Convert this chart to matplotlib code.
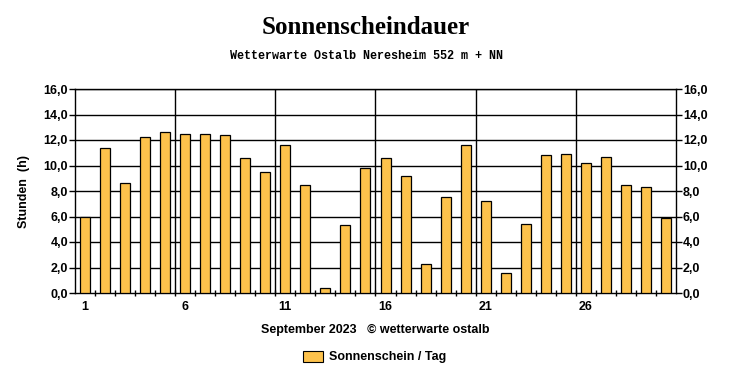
import matplotlib.pyplot as plt
from matplotlib.patches import Patch
from matplotlib.ticker import FixedLocator, FuncFormatter

# Data
days = list(range(1, 31))
sunshine = [6.0, 11.4, 8.6, 12.2, 12.6, 12.5, 12.5, 12.4, 10.6, 9.5,
            11.6, 8.5, 0.4, 5.3, 9.8, 10.6, 9.2, 2.3, 7.5, 11.6,
            7.2, 1.6, 5.4, 10.8, 10.9, 10.2, 10.7, 8.5, 8.3, 5.9]
day_labels = [1, 6, 11, 16, 21, 26]
yticks = [0, 2, 4, 6, 8, 10, 12, 14, 16]

BAR = '#FDC24C'
LAB = dict(family='Liberation Sans', weight='bold', size=9)

fig = plt.figure(figsize=(7.32, 3.8), dpi=100)
ax = fig.add_axes([75 / 732, 1 - 293 / 380, 601 / 732, 204 / 380])

ax.bar(days, sunshine, width=0.5, color=BAR, edgecolor='black', linewidth=0.9, zorder=3)

ax.set_xlim(0.5, 30.5)
ax.set_ylim(0, 16)

# grid: horizontal every 2 h, vertical every 5 days (between days)
for y in yticks[1:]:
    ax.axhline(y, color='black', linewidth=1, zorder=1)
for b in [5.5, 10.5, 15.5, 20.5, 25.5]:
    ax.axvline(b, color='black', linewidth=1, zorder=1)

ax.xaxis.set_major_locator(FixedLocator(day_labels))
ax.xaxis.set_minor_locator(FixedLocator([d + 0.5 for d in days[:-1]]))
ax.tick_params(axis='x', which='major', length=0, pad=6)
ax.tick_params(axis='x', which='minor', length=4, direction='inout', width=1)
ax.set_xticklabels([str(d) for d in day_labels], **LAB)

ax.set_yticks(yticks)
fmt = FuncFormatter(lambda v, p: f'{v:.1f}'.replace('.', ','))
ax.yaxis.set_major_formatter(fmt)
ax.tick_params(axis='y', which='both', length=4, width=1, pad=1,
               left=True, right=True, labelleft=True, labelright=True)
for lab in ax.get_yticklabels():
    lab.set_fontproperties(LAB)
for lab in ax.yaxis.get_ticklabels(which='major'):
    lab.set_fontfamily('Liberation Sans')
for t in ax.yaxis.get_major_ticks():
    t.label2.set_fontfamily('Liberation Sans')
    t.label2.set_fontweight('bold')
    t.label2.set_fontsize(9)

for s in ax.spines.values():
    s.set_linewidth(1)
    s.set_color('black')

ax.set_ylabel('Stunden  (h)', labelpad=10, **LAB)

fig.text(0.5, 1 - 28 / 380, 'Sonnenscheindauer', ha='center', va='center',
         family='Liberation Serif', weight='bold', size=18)
fig.text(0.5, 1 - 56 / 380, 'Wetterwarte Ostalb Neresheim 552 m + NN', ha='center', va='center',
         family='Liberation Mono', weight='bold', size=8.5)
fig.text(375 / 732, 1 - 330 / 380, 'September 2023   \u00a9 wetterwarte ostalb', ha='center', va='center', **LAB)

leg = fig.legend(handles=[Patch(facecolor=BAR, edgecolor='black', linewidth=0.8)],
                 labels=['Sonnenschein / Tag'], loc='center', bbox_to_anchor=(375 / 732, 1 - 357 / 380),
                 frameon=False, prop=dict(family='Liberation Sans', weight='bold', size=9),
                 handlelength=1.6, handleheight=1.0, handletextpad=0.5)

fig.savefig('out.png', dpi=100)
